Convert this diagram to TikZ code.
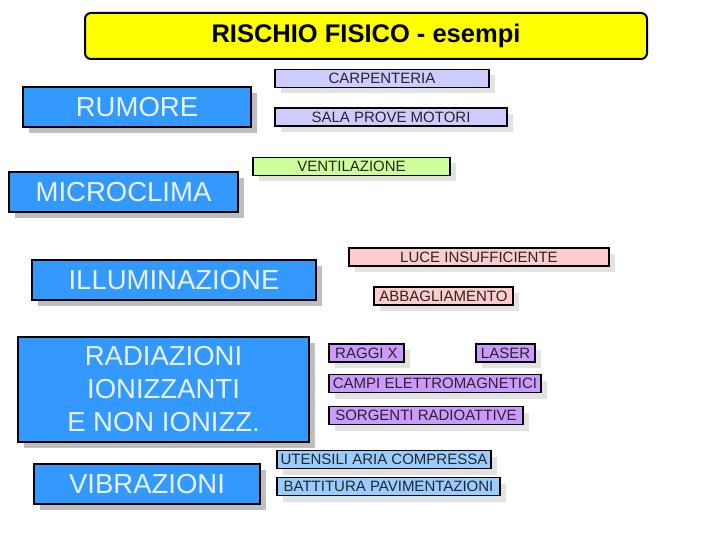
\documentclass[tikz,border=0pt]{standalone}
\usepackage{fontspec}
\setmainfont{Liberation Sans}
\usetikzlibrary{shadows}
\definecolor{titleyellow}{RGB}{255,255,0}
\definecolor{bigblue}{RGB}{51,153,255}
\definecolor{bigtext}{RGB}{232,242,255}
\definecolor{bigshadow}{RGB}{190,190,190}
\definecolor{smallshadow}{RGB}{226,226,226}
\definecolor{lavender}{RGB}{204,204,255}
\definecolor{lightgreen}{RGB}{204,255,153}
\definecolor{lightpink}{RGB}{255,204,204}
\definecolor{lightpurple}{RGB}{204,153,255}
\definecolor{lightblue}{RGB}{153,204,255}
\tikzset{
  titlebox/.style={draw=black, line width=2pt, fill=titleyellow, rounded corners=6pt,
    minimum width=562pt, minimum height=46pt, inner sep=0pt,
    font=\fontsize{25.5}{29}\selectfont\bfseries},
  bigbox/.style={draw=black, line width=2pt, fill=bigblue, text=bigtext, inner sep=0pt,
    align=center, font=\fontsize{27.5}{33}\selectfont,
    drop shadow={shadow xshift=6pt, shadow yshift=-6pt, fill=bigshadow, opacity=1}},
  smallbox/.style={draw=black, line width=1.8pt, inner sep=0pt, minimum height=18pt,
    text=black!85, font=\fontsize{15}{17}\selectfont,
    drop shadow={shadow xshift=6pt, shadow yshift=-6pt, fill=smallshadow, opacity=1}},
}
\begin{document}
\begin{tikzpicture}[x=1pt,y=-1pt]
\useasboundingbox (0,0) rectangle (720,540);
\node[titlebox] (title) at (366,36) {RISCHIO FISICO - esempi};

\node[bigbox, minimum width=228pt, minimum height=40pt] (rumore) at (137,107) {RUMORE};
\node[bigbox, minimum width=229pt, minimum height=40pt] (micro) at (123.5,192) {MICROCLIMA};
\node[bigbox, minimum width=284pt, minimum height=40pt] (illum) at (174,280) {ILLUMINAZIONE};
\node[bigbox, minimum width=291pt, minimum height=105pt] (radia) at (163.5,389.5) {RADIAZIONI\\IONIZZANTI\\E NON IONIZZ.};
\node[bigbox, minimum width=226pt, minimum height=40pt] (vibra) at (147,484) {VIBRAZIONI};

\node[smallbox, fill=lavender, minimum width=214pt] (carp) at (382,78.5) {CARPENTERIA};
\node[smallbox, fill=lavender, minimum width=232pt] (sala) at (391,117) {SALA PROVE MOTORI};
\node[smallbox, fill=lightgreen, minimum width=197pt] (vent) at (351.5,166.5) {VENTILAZIONE};
\node[smallbox, fill=lightpink, minimum width=260pt] (luce) at (479,257) {LUCE INSUFFICIENTE};
\node[smallbox, fill=lightpink, minimum width=139pt] (abba) at (443.5,296) {ABBAGLIAMENTO};
\node[smallbox, fill=lightpurple, minimum width=75pt] (raggi) at (366.5,353) {RAGGI X};
\node[smallbox, fill=lightpurple, minimum width=59pt] (laser) at (505.5,353) {LASER};
\node[smallbox, fill=lightpurple, minimum width=212pt] (campi) at (435,383.5) {CAMPI ELETTROMAGNETICI};
\node[smallbox, fill=lightpurple, minimum width=194pt] (sorg) at (426,415.5) {SORGENTI RADIOATTIVE};
\node[smallbox, fill=lightblue, minimum width=214pt] (uten) at (384,459.5) {UTENSILI ARIA COMPRESSA};
\node[smallbox, fill=lightblue, minimum width=223pt] (batt) at (388.5,486.5) {BATTITURA PAVIMENTAZIONI};
\end{tikzpicture}
\end{document}
